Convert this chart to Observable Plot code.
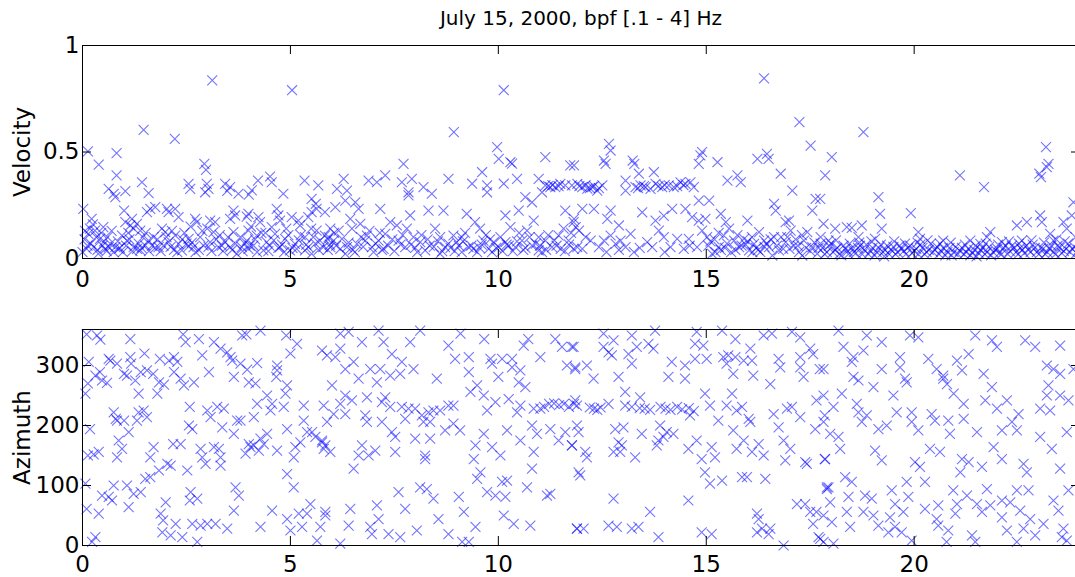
<!DOCTYPE html>
<html>
<head>
<meta charset="utf-8">
<script src="https://cdn.jsdelivr.net/npm/d3@7"></script>
<script src="https://cdn.jsdelivr.net/npm/@observablehq/plot@0.6"></script>
<style>
  html, body { margin: 0; padding: 0; background: #fff; overflow: hidden; width: 1075px; height: 577px; }
  #title { height: 36px; width: 998px; margin-left: 82px; text-align: center; font-family: "DejaVu Sans", sans-serif; font-size: 20px; line-height: 36px; color: #000; }
  svg { display: block; }
</style>
</head>
<body>
<div id="title"></div>
<div id="top"></div>
<div id="bottom"></div>
<script>
const titleText = "July 15, 2000, bpf [.1 - 4] Hz";
const xTicks = [0, 5, 10, 15, 20];
const velocityTicks = [0, 0.5, 1];
const azimuthTicks = [0, 100, 200, 300];
const velocityLabel = "Velocity";
const azimuthLabel = "Azimuth";

// [hour, velocity]
const velocityReadings = [
  // 0-6 h upper
  [0.13,0.503],[0.82,0.495],[0.39,0.441],[0.82,0.39],[0.63,0.327],[0.75,0.304],[0.79,0.288],[1.03,0.316],[1.43,0.358],[1.47,0.604],[1.59,0.307],[2.22,0.562],[2.55,0.35],[2.59,0.327],[2.93,0.444],[2.97,0.416],[2.99,0.35],[3.03,0.327],[2.95,0.311],[3.12,0.836],[3.43,0.35],[3.55,0.335],[3.48,0.317],[3.75,0.304],[4.0,0.30],[4.07,0.32],[4.22,0.366],[4.51,0.385],[4.55,0.358],[4.83,0.304],[5.04,0.79],[5.34,0.366],[5.67,0.343],[5.51,0.28],[5.61,0.257],[5.63,0.233],
  // 0-6 h middle
  [0.02,0.233],[1.0,0.225],[1.19,0.186],[1.55,0.218],[1.63,0.233],[1.75,0.241],[2.03,0.233],[2.07,0.218],[2.23,0.233],[2.31,0.194],[2.71,0.186],[3.07,0.178],[3.63,0.225],[3.67,0.202],[3.95,0.197],[3.99,0.21],[4.23,0.194],[4.67,0.233],[4.71,0.202],[4.75,0.178],[5.03,0.194],[5.19,0.178],[5.43,0.194],[5.51,0.218],[5.83,0.218],
  // 0-6 h low
  [0.22,0.186],[0.18,0.14],[0.14,0.116],[0.3,0.131],[0.5,0.147],[0.42,0.092],[0.1,0.045],[0.0,0.03],[0.27,0.053],[0.38,0.022],[0.55,0.045],[0.67,0.069],[0.79,0.053],[0.87,0.045],[0.95,0.108],[1.03,0.171],[1.15,0.155],[1.23,0.14],[1.31,0.163],[1.39,0.131],[1.07,0.084],[1.23,0.053],[1.39,0.038],[1.51,0.061],[1.59,0.084],[1.71,0.1],[1.83,0.053],[1.91,0.14],[1.99,0.124],[2.07,0.077],[2.23,0.108],[2.31,0.069],[2.39,0.038],[2.55,0.092],[2.67,0.053],[2.75,0.171],[2.83,0.1],[2.91,0.061],[3.07,0.077],[3.15,0.124],[3.19,0.171],[3.27,0.053],[3.43,0.077],[3.55,0.186],[3.63,0.124],[3.71,0.022],[3.83,0.053],[3.95,0.084],[3.99,0.131],[4.11,0.061],[4.19,0.108],[4.27,0.171],[4.35,0.038],[4.43,0.077],[4.55,0.147],[4.63,0.116],[4.75,0.053],[4.87,0.092],[4.99,0.038],[5.11,0.069],[5.23,0.155],[5.35,0.1],[5.43,0.053],[5.51,0.022],[5.63,0.131],[5.71,0.084],[5.83,0.108],
  [0.63,0.053],[0.9,0.05],[1.31,0.045],[1.75,0.05],[2.55,0.056],[3.55,0.053],[3.99,0.045],[4.71,0.05],[5.35,0.038],[5.79,0.053],
  [0.06,0.13],[0.25,0.16],[0.45,0.12],[0.6,0.1],[0.7,0.13],[1.1,0.12],[1.45,0.1],[1.8,0.09],[2.15,0.13],[2.45,0.12],[2.6,0.15],[3.0,0.14],[3.3,0.11],[3.8,0.1],[4.05,0.15],[4.4,0.12],[4.9,0.14],[5.25,0.11],[5.5,0.14],[5.9,0.09],
  [0.2,0.07],[0.48,0.06],[0.75,0.03],[1.05,0.06],[1.35,0.07],[1.6,0.035],[1.95,0.06],[2.2,0.04],[2.5,0.07],[2.8,0.04],[3.1,0.035],[3.35,0.06],[3.6,0.04],[3.9,0.07],[4.2,0.03],[4.5,0.06],[4.85,0.03],[5.15,0.045],[5.6,0.07],[5.9,0.04],
  [0.05,0.09],[0.12,0.06],[0.33,0.1],[0.36,0.04],[0.52,0.08],[0.58,0.035],[0.85,0.08],[0.97,0.03],[1.13,0.09],[1.2,0.035],[1.42,0.05],[1.52,0.12],[1.67,0.06],[1.88,0.035],[2.02,0.1],[2.12,0.055],[2.28,0.03],[2.4,0.09],[2.63,0.075],[2.72,0.03],[2.88,0.13],[3.03,0.055],[3.22,0.09],[3.38,0.035],[3.5,0.1],[3.68,0.07],[3.85,0.035],[4.02,0.06],[4.15,0.09],[4.3,0.12],[4.47,0.035],[4.6,0.085],[4.8,0.065],[4.95,0.11],[5.05,0.05],[5.2,0.085],[5.38,0.065],[5.55,0.1],[5.68,0.04],[5.95,0.065],
  // 6-12 h upper
  [8.93,0.593],[10.13,0.79],[9.97,0.523],[10.01,0.468],[10.29,0.452],[10.33,0.445],[11.13,0.476],[11.73,0.437],[7.72,0.444],[9.61,0.405],[6.28,0.374],[6.88,0.366],[7.08,0.358],[7.28,0.39],[7.68,0.358],[7.92,0.374],[8.2,0.335],[8.4,0.304],[7.84,0.311],[7.84,0.296],[8.8,0.374],[9.37,0.351],[9.73,0.343],[9.73,0.311],[10.13,0.351],[10.45,0.374],[10.65,0.288],[10.81,0.264],[10.97,0.374],[11.05,0.311],[11.13,0.343],[11.25,0.335],[11.37,0.335],[11.49,0.35],[11.61,0.343],[11.77,0.343],[11.2,0.34],[11.3,0.345],[11.45,0.34],
  [6.12,0.327],[6.36,0.319],[6.32,0.272],[6.08,0.241],[6.56,0.264],[6.64,0.233],[7.16,0.233],[7.88,0.202],[8.32,0.225],[8.68,0.225],[9.24,0.21],[10.17,0.202],[10.49,0.225],[10.85,0.178],[11.61,0.225],[11.81,0.171],
  // 6-12 h low
  [6.44,0.186],[6.68,0.163],[6.48,0.14],[5.96,0.14],[6.16,0.131],[5.92,0.1],[6.04,0.084],[6.24,0.092],[6.36,0.053],[5.96,0.053],[6.6,0.069],[6.8,0.084],[6.96,0.053],[7.12,0.084],[7.28,0.116],[7.4,0.171],[7.56,0.155],[7.6,0.084],[7.76,0.053],[7.96,0.1],[8.12,0.077],[8.24,0.038],[8.48,0.14],[8.6,0.1],[8.72,0.053],[8.92,0.108],[9.0,0.077],[9.12,0.03],[9.28,0.053],[9.44,0.171],[9.56,0.14],[9.64,0.084],[9.77,0.045],[9.89,0.077],[10.01,0.053],[10.17,0.077],[10.29,0.147],[10.41,0.053],[10.57,0.084],[10.69,0.131],[10.81,0.061],[10.97,0.1],[11.13,0.084],[11.29,0.053],[11.45,0.108],[11.57,0.14],[11.69,0.084],[11.81,0.045],[6.32,0.022],[7.24,0.045],[8.6,0.022],[9.49,0.03],[10.97,0.038],[9.12,0.1],[6.84,0.108],
  [6.1,0.06],[6.5,0.04],[6.7,0.1],[7.0,0.03],[7.15,0.12],[7.35,0.06],[7.5,0.035],[7.7,0.11],[7.9,0.065],[8.05,0.03],[8.3,0.09],[8.45,0.055],[8.8,0.07],[8.95,0.035],[9.2,0.12],[9.35,0.06],[9.55,0.05],[9.7,0.11],[9.85,0.03],[10.05,0.1],[10.25,0.06],[10.35,0.035],[10.5,0.12],[10.65,0.05],[10.9,0.07],[11.05,0.03],[11.2,0.11],[11.4,0.06],[11.6,0.035],[11.75,0.12],
  [6.05,0.12],[6.2,0.045],[6.4,0.075],[6.55,0.03],[6.75,0.055],[6.9,0.13],[7.05,0.07],[7.2,0.04],[7.45,0.09],[7.65,0.065],[7.8,0.14],[8.0,0.05],[8.15,0.11],[8.35,0.06],[8.55,0.08],[8.65,0.035],[8.85,0.05],[9.05,0.06],[9.15,0.08],[9.4,0.045],[9.6,0.065],[9.8,0.09],[9.95,0.05],[10.1,0.035],[10.2,0.065],[10.45,0.08],[10.6,0.04],[10.75,0.1],[11.0,0.06],[11.15,0.04],[11.35,0.085],[11.5,0.045],[11.7,0.065],
  // 12-17.7 h upper
  [12.66,0.538],[12.7,0.507],[12.54,0.46],[12.58,0.444],[11.82,0.437],[13.23,0.46],[13.27,0.444],[14.9,0.5],[14.86,0.484],[14.82,0.444],[15.27,0.452],[16.23,0.468],[16.46,0.491],[16.5,0.468],[17.51,0.53],[16.79,0.398],[15.75,0.39],[15.83,0.358],[15.51,0.366],[17.07,0.319],[16.39,0.846],[17.24,0.64],
  // 12-15 h band
  [11.9,0.35],[12.02,0.335],[12.14,0.328],[12.26,0.335],[12.38,0.319],[12.5,0.343],[11.95,0.34],[12.1,0.345],[12.2,0.33],[12.3,0.34],[12.42,0.33],[13.06,0.366],[13.06,0.319],[13.3,0.335],[13.42,0.343],[13.54,0.335],[13.66,0.327],[13.78,0.35],[13.94,0.335],[14.1,0.343],[14.22,0.335],[14.38,0.358],[14.5,0.35],[14.62,0.358],[14.7,0.335],[13.36,0.33],[13.5,0.34],[13.85,0.34],[14.0,0.345],[14.3,0.34],[14.45,0.345],[13.38,0.398],[13.74,0.405],[14.82,0.272],[15.07,0.272],[16.63,0.257],[16.67,0.225],[17.55,0.225],[17.63,0.28],
  // 12-17.7 h middle
  [12.02,0.233],[12.3,0.233],[12.7,0.225],[13.46,0.217],[13.78,0.178],[13.98,0.2],[14.18,0.233],[14.5,0.233],[14.66,0.194],[14.82,0.178],[14.98,0.186],[15.35,0.21],[15.47,0.171],[15.99,0.178],[16.91,0.171],[16.99,0.178],[11.82,0.186],[11.86,0.147],[12.9,0.155],[12.62,0.186],
  // 12-17.7 h low
  [11.94,0.131],[12.1,0.1],[11.9,0.053],[12.02,0.045],[12.22,0.084],[12.42,0.053],[12.54,0.084],[12.7,0.108],[12.82,0.069],[12.94,0.084],[13.06,0.053],[13.18,0.116],[13.26,0.03],[13.58,0.077],[13.7,0.053],[13.86,0.131],[13.98,0.1],[14.14,0.053],[14.3,0.092],[14.46,0.045],[14.58,0.092],[14.78,0.053],[14.9,0.131],[15.02,0.1],[15.14,0.022],[15.3,0.053],[15.42,0.108],[15.55,0.14],[15.67,0.084],[15.79,0.053],[15.91,0.092],[16.03,0.038],[16.15,0.069],[16.27,0.124],[16.39,0.084],[16.51,0.053],[16.63,0.1],[16.75,0.038],[16.91,0.077],[17.03,0.131],[17.11,0.061],[17.23,0.03],[17.35,0.084],[17.43,0.124],[17.55,0.053],[17.67,0.022],[17.75,0.1],[15.22,0.03],[16.11,0.03],[17.31,0.014],[16.59,0.014],
  [15.05,0.06],[15.2,0.09],[15.35,0.04],[15.5,0.07],[15.6,0.03],[15.75,0.11],[15.85,0.06],[16.0,0.08],[16.2,0.05],[16.3,0.03],[16.45,0.07],[16.7,0.06],[16.8,0.1],[17.0,0.045],[17.15,0.09],[17.4,0.05],[17.6,0.075],[12.6,0.03],[12.9,0.04],[13.4,0.05],[14.0,0.03],[14.6,0.06],
  [15.1,0.08],[15.3,0.12],[15.45,0.05],[15.7,0.04],[15.95,0.065],[16.1,0.1],[16.25,0.04],[16.4,0.055],[16.55,0.09],[16.85,0.045],[16.95,0.1],[17.2,0.06],[17.3,0.11],[17.5,0.035],[17.7,0.05],
  // 17.7-24 h upper and middle
  [18.78,0.593],[18.02,0.476],[17.86,0.39],[21.1,0.39],[21.68,0.335],[23.17,0.523],[23.23,0.444],[23.19,0.429],[23.01,0.398],[23.05,0.382],[19.14,0.288],[17.74,0.28],[19.18,0.21],[19.92,0.213],[23.83,0.264],[19.22,0.14],
  [17.82,0.163],[18.1,0.14],[18.38,0.147],[18.5,0.144],[18.74,0.155],[18.66,0.1],[19.06,0.092],[20.1,0.124],[20.14,0.092],[20.7,0.084],[21.35,0.084],[21.59,0.069],[21.83,0.124],[21.75,0.1],[22.47,0.155],[22.71,0.171],[23.03,0.202],[23.07,0.171],[23.27,0.116],[23.35,0.084],[23.59,0.171],[23.67,0.14],[23.79,0.202],[22.59,0.084],[22.11,0.077],[17.94,0.084],
  // 17.7-24 h low
  [17.8,0.05],[17.9,0.03],[18.0,0.07],[18.1,0.04],[18.2,0.02],[18.3,0.06],[18.4,0.035],[18.5,0.05],[18.6,0.025],[18.7,0.06],[18.8,0.04],[18.9,0.02],[19.0,0.05],[19.1,0.03],[19.2,0.065],[19.3,0.04],[19.4,0.02],[19.5,0.055],[19.6,0.03],[19.7,0.045],[19.8,0.02],[19.9,0.06],[20.0,0.035],[20.1,0.02],[20.2,0.05],[20.3,0.03],[20.4,0.07],[20.5,0.04],[20.6,0.02],[20.7,0.05],[20.8,0.03],[20.9,0.015],[21.0,0.055],[21.1,0.035],[21.2,0.02],[21.3,0.045],[21.4,0.025],[21.5,0.01],[21.6,0.04],[21.7,0.02],[21.8,0.055],[21.9,0.03],[22.0,0.045],[22.1,0.02],[22.2,0.06],[22.3,0.035],[22.4,0.05],[22.5,0.02],[22.6,0.04],[22.7,0.06],[22.8,0.03],[22.9,0.05],[23.0,0.02],[23.1,0.045],[23.2,0.03],[23.3,0.06],[23.4,0.02],[23.5,0.05],[23.6,0.035],[23.7,0.07],[23.8,0.045],[23.9,0.025],
  [17.85,0.02],[17.95,0.06],[18.05,0.03],[18.15,0.05],[18.25,0.015],[18.35,0.045],[18.45,0.07],[18.55,0.03],[18.65,0.05],[18.75,0.02],[18.85,0.065],[18.95,0.035],[19.05,0.015],[19.15,0.05],[19.25,0.03],[19.35,0.06],[19.45,0.04],[19.55,0.02],[19.65,0.06],[19.75,0.035],[19.85,0.05],[19.95,0.025],[20.05,0.045],[20.15,0.065],[20.25,0.02],[20.35,0.04],[20.45,0.03],[20.55,0.055],[20.65,0.035],[20.75,0.015],[20.85,0.05],[20.95,0.03],[21.05,0.02],[21.15,0.05],[21.25,0.03],[21.35,0.015],[21.45,0.04],[21.55,0.025],[21.65,0.05],[21.75,0.03],[21.85,0.015],[21.95,0.04],[22.05,0.025],[22.15,0.05],[22.25,0.02],[22.35,0.06],[22.45,0.03],[22.55,0.05],[22.65,0.025],[22.75,0.04],[22.85,0.065],[22.95,0.03],[23.05,0.05],[23.15,0.02],[23.25,0.045],[23.35,0.03],[23.45,0.06],[23.55,0.025],[23.65,0.045],[23.75,0.03],[23.85,0.055],[23.95,0.04],
  [17.75,0.07],[18.12,0.085],[18.42,0.02],[18.68,0.075],[18.97,0.08],[19.28,0.01],[19.52,0.08],[19.78,0.07],[20.08,0.075],[20.32,0.085],[20.62,0.07],[20.88,0.075],[21.22,0.065],[21.48,0.06],[21.72,0.07],[22.02,0.065],[22.28,0.08],[22.52,0.07],[22.82,0.085],[23.12,0.075],[23.42,0.09],[23.62,0.08],[23.88,0.1]
];

// [hour, azimuth in degrees]
const azimuthReadings = [
  // 0-6 h
  [0.1,352],[0.35,350],[0.43,343],[0.15,306],[0.42,289],[0.31,283],[0.47,275],[0.59,271],[0.13,270],[0.07,253],[0.67,308],[0.83,303],[0.63,311],[1.15,344],[1.15,314],[1.17,303],[1.0,286],[1.07,283],[1.27,275],[1.35,253],[1.49,320],[1.4,289],[1.55,292],[1.7,286],[1.86,311],[1.84,272],[1.8,253],[1.96,268],[2.08,308],[2.2,314],[2.28,306],[2.2,289],[2.36,278],[2.44,267],[2.68,272],[2.48,339],[2.42,352],[2.8,344],[2.88,317],[3.04,289],[3.16,339],[3.32,328],[3.48,322],[3.56,314],[3.6,308],[3.64,281],[3.84,350],[3.94,352],[3.8,303],[3.96,293],[4.0,272],[4.16,270],[4.28,358],[4.2,304],[4.44,250],[4.68,300],[4.68,292],[4.66,281],[4.88,253],[4.9,350],[5.0,320],[5.16,336],[4.92,267],
  [0.18,194],[0.13,150],[0.27,152],[0.39,156],[0.75,222],[0.83,208],[0.8,211],[1.0,208],[1.11,189],[0.87,175],[0.95,161],[0.83,147],[1.35,222],[1.31,208],[1.47,225],[1.55,214],[1.63,147],[1.71,164],[1.84,125],[1.63,114],[1.51,111],[2.04,136],[2.12,133],[2.18,169],[2.36,169],[2.58,231],[2.56,200],[2.64,194],[2.52,125],[2.84,161],[2.88,147],[2.96,136],[3.0,225],[3.08,214],[3.16,164],[3.28,161],[3.32,147],[3.32,133],[3.24,231],[3.4,228],[3.36,197],[3.64,186],[3.72,208],[3.8,208],[3.92,153],[4.0,169],[4.04,164],[4.12,167],[4.12,214],[4.2,236],[4.24,158],[4.28,178],[4.36,169],[4.44,186],[4.52,225],[4.56,236],[4.68,158],[4.84,231],[4.92,194],[5.12,164],[5.08,147],[5.24,172],[5.32,208],[5.32,233],[5.4,189],[5.52,189],[5.6,181],[5.76,175],[5.84,167],
  [0.07,103],[0.1,61],[0.39,53],[0.31,14],[0.23,6],[0.47,83],[0.63,81],[0.75,100],[0.71,75],[1.07,100],[1.11,64],[1.23,86],[1.4,89],[1.88,53],[1.94,42],[2.0,72],[1.92,22],[2.12,17],[2.24,36],[2.4,14],[2.6,89],[2.58,75],[2.76,78],[2.64,36],[2.76,6],[2.84,33],[3.0,36],[3.2,36],[3.48,28],[3.64,58],[3.68,97],[3.76,83],[4.28,31],[4.56,58],[4.92,44],[5.0,25],[4.92,119],[5.08,97],[5.2,53],[5.28,31],[5.4,53],[5.48,69],[5.64,8],[5.72,31],[5.84,56],
  // 6-12 h
  [6.2,353],[6.4,356],[6.72,339],[7.12,358],[7.24,339],[7.88,339],[8.12,358],[8.8,333],[9.09,353],[9.66,344],[5.76,325],[5.88,317],[6.08,314],[6.2,328],[6.52,306],[6.32,294],[6.64,278],[6.92,294],[7.16,294],[7.08,272],[7.4,283],[7.44,319],[7.64,286],[7.68,306],[7.96,294],[8.52,278],[8.96,311],[9.29,314],[9.29,289],[9.81,311],[9.85,303],[10.0,281],[10.09,311],[10.33,311],[10.33,297],[10.53,292],[10.49,272],[10.65,264],[10.61,333],[10.72,344],[11.01,314],[11.37,344],[11.53,331],[11.77,331],[11.65,300],[11.85,294],
  [6.0,267],[6.32,250],[6.2,236],[6.48,242],[5.8,233],[6.04,219],[5.88,206],[6.32,219],[6.84,247],[7.28,247],[7.2,239],[6.8,217],[6.84,206],[7.2,206],[5.76,172],[5.96,156],[5.8,161],[6.72,167],[6.64,150],[6.88,150],[7.04,158],[6.52,128],[7.44,189],[7.52,181],[7.52,156],[7.4,231],[7.68,231],[7.84,228],[7.76,211],[8.0,228],[8.16,217],[8.32,222],[8.44,225],[8.6,225],[8.8,233],[8.92,233],[8.2,206],[8.36,206],[8.0,178],[8.36,178],[8.72,192],[8.92,203],[9.08,192],[8.24,150],[8.24,144],[9.45,167],[9.41,144],[9.57,122],[9.49,111],[9.65,186],[9.85,164],[10.05,150],[9.33,256],[9.49,267],[9.65,250],[9.73,225],[9.93,239],[10.25,244],[10.53,233],[10.45,222],[10.21,192],[10.53,175],[10.81,200],[10.93,186],[10.85,156],[10.81,128],[11.25,194],[11.45,175],[11.61,189],[11.77,167],[11.89,200],[11.93,122],[10.85,228],[11.01,228],[11.1,231],[11.22,236],[11.34,237],[11.46,234],[11.58,236],[11.7,231],[11.82,236],
  [5.84,50],[6.44,61],[6.4,33],[6.2,3],[7.08,67],[7.12,44],[6.92,31],[6.96,19],[7.36,19],[7.64,14],[7.6,89],[7.76,61],[8.04,25],[8.12,97],[8.28,94],[8.44,78],[8.56,44],[8.8,19],[9.05,81],[9.17,56],[9.45,31],[9.13,6],[9.29,6],[9.73,89],[9.93,83],[10.17,81],[10.09,106],[10.21,108],[10.13,50],[10.37,36],[10.69,97],[10.77,33],[11.17,83],[11.25,86],[11.89,28],
  // 12-17.7 h
  [12.53,353],[12.77,342],[13.21,350],[13.77,358],[13.61,336],[13.73,328],[12.53,331],[12.65,322],[12.73,317],[13.13,319],[13.21,303],[13.33,331],[11.81,331],[11.85,297],[12.13,300],[12.29,278],[12.89,281],[14.77,356],[14.73,336],[14.93,333],[15.38,358],[15.7,344],[16.06,328],[16.38,350],[16.58,353],[17.06,356],[17.26,347],[17.5,328],[14.17,306],[14.49,300],[14.73,311],[15.01,311],[15.41,314],[15.53,317],[15.7,314],[15.9,308],[16.1,308],[15.49,303],[15.65,286],[16.13,283],[16.54,269],[16.74,311],[16.78,297],[17.26,314],[17.26,297],[17.34,281],[17.57,319],[17.73,294],[14.09,281],[14.49,278],
  [11.85,242],[11.89,233],[12.2,230],[12.3,228],[12.38,226],[12.46,230],[13.05,256],[13.41,247],[13.05,233],[13.21,231],[13.4,229],[13.52,228],[13.65,226],[13.9,231],[14.02,228],[14.14,226],[14.3,231],[14.42,227],[14.58,229],[14.7,224],[12.65,236],[11.93,189],[11.77,167],[12.09,156],[12.13,147],[11.97,117],[12.81,194],[13.01,197],[12.89,172],[12.97,167],[12.77,156],[12.93,156],[13.29,147],[13.45,186],[13.89,200],[14.05,189],[14.21,186],[13.85,175],[13.81,167],[13.97,181],[14.57,161],[14.77,175],[14.61,217],[14.89,144],[15.13,164],[15.21,147],[14.97,122],[15.09,103],[15.38,108],[14.97,253],[15.09,233],[15.29,208],[15.49,233],[15.62,253],[15.73,225],[15.86,231],[16.02,211],[16.06,206],[15.65,192],[15.9,175],[15.73,161],[16.1,156],[16.26,169],[16.38,150],[15.86,114],[15.98,114],[16.42,111],[16.62,219],[16.74,197],[16.86,175],[17.02,161],[16.9,142],[16.94,228],[17.06,231],[17.26,214],[17.38,139],[17.42,136],[17.65,242],[17.85,217],[17.62,194],[17.85,144],[17.9,94],
  [11.89,28],[12.05,28],[12.77,78],[12.65,33],[12.85,31],[13.21,28],[13.37,31],[13.65,56],[13.85,14],[14.57,75],[14.89,22],[15.13,19],[16.22,53],[16.26,44],[16.22,22],[16.34,28],[16.54,28],[16.5,19],[16.86,0],[17.18,69],[17.38,69],[17.5,56],[17.65,56],[17.57,36],[17.7,14],[17.82,6],[17.94,97],
  // 17.7-24 h
  [18.18,358],[18.86,350],[19.22,339],[19.9,350],[20.1,347],[21.47,350],[21.87,342],[21.99,331],[22.67,342],[22.91,331],[23.51,333],[18.3,331],[18.54,314],[18.78,325],[18.5,306],[17.82,294],[18.54,281],[18.66,275],[19.22,294],[19.66,314],[19.66,297],[19.78,278],[19.82,272],[20.34,311],[20.54,294],[20.7,283],[21.03,308],[21.15,292],[21.31,319],[21.67,286],[21.87,264],[21.19,236],[20.95,253],[20.79,269],[20.7,278],[23.19,300],[23.35,294],[23.51,286],[23.83,294],[23.23,267],[23.19,250],[23.51,250],[23.71,242],
  [17.82,250],[18.06,231],[18.26,253],[18.62,236],[18.66,222],[18.86,217],[18.74,206],[19.02,264],[19.34,200],[19.14,194],[19.5,250],[19.58,222],[19.94,222],[19.94,206],[20.1,192],[20.42,219],[20.5,208],[20.82,208],[20.86,186],[21.19,211],[21.51,189],[21.71,242],[21.99,228],[22.23,242],[22.51,219],[22.35,206],[22.11,192],[22.47,192],[23.03,228],[23.27,225],[23.03,181],[23.31,161],[23.67,189],[17.82,206],[17.98,186],[18.18,181],[18.22,161],[17.86,144],[19.06,158],[19.22,142],[20.38,161],[20.62,156],[20.02,139],[20.14,131],[21.15,144],[21.31,139],[21.11,122],[21.63,131],[21.91,164],[22.11,144],[22.63,136],[22.71,122],[23.51,128],[18.34,114],[18.5,106],[17.9,97],
  [17.98,72],[17.82,50],[18.02,39],[18.42,81],[18.38,56],[18.46,31],[18.82,83],[18.98,78],[18.78,56],[19.02,50],[19.14,33],[19.46,92],[19.54,69],[19.74,56],[19.42,47],[19.54,31],[19.82,106],[19.86,81],[19.7,22],[19.94,8],[20.26,106],[20.26,61],[20.58,67],[20.54,44],[20.58,33],[20.82,25],[20.94,92],[21.03,69],[20.99,53],[21.27,83],[21.51,69],[21.63,56],[21.39,17],[21.47,6],[21.75,94],[21.83,67],[22.11,75],[22.31,72],[22.11,47],[22.47,92],[22.75,92],[22.55,58],[22.79,44],[22.23,25],[22.63,28],[23.11,36],[22.91,17],[23.35,75],[23.71,92],[23.47,58],[23.59,28],[23.55,14],[23.67,8],[22.47,6],[20.78,6],[18.06,3],[17.74,11],[19.38,22]
];

document.getElementById("title").textContent = titleText;

const WIDTH = 1081, MARGIN_LEFT = 82, MARGIN_RIGHT = 1, TICK = 9;
const plotW = WIDTH - MARGIN_LEFT - MARGIN_RIGHT;

function panel({data, yDomain, yTicks, yLabel, height, marginTop, marginBottom, xPadding}) {
  const plotH = height - marginTop - marginBottom;
  return Plot.plot({
    width: WIDTH, height, marginLeft: MARGIN_LEFT, marginRight: MARGIN_RIGHT, marginTop, marginBottom,
    style: {fontFamily: "DejaVu Sans, sans-serif", fontSize: "23px", color: "#000", background: "#fff", overflow: "visible", maxWidth: "none", display: "block"},
    x: {domain: [0, 24]},
    y: {domain: yDomain},
    marks: [
      Plot.dot(data, {x: d => d[0], y: d => d[1], symbol: "times", r: 4.6, stroke: "#0000ff", strokeOpacity: 0.55, strokeWidth: 1.1}),
      Plot.ruleX(xTicks, {x: d => d, insetTop: plotH - TICK, stroke: "#000"}),
      Plot.ruleX(xTicks, {x: d => d, insetBottom: plotH - TICK, stroke: "#000"}),
      Plot.ruleY(yTicks, {y: d => d, insetRight: plotW - TICK, stroke: "#000"}),
      Plot.ruleY(yTicks, {y: d => d, insetLeft: plotW - TICK, stroke: "#000"}),
      Plot.frame({stroke: "#000"}),
      Plot.axisX(xTicks, {tickSize: 0, tickPadding: xPadding, label: null, tickFormat: d => `${d}`}),
      Plot.axisY(yTicks, {tickSize: 0, tickPadding: 3, label: null, tickFormat: d => `${d}`}),
      Plot.text([yLabel], {frameAnchor: "left", textAnchor: "middle", rotate: -90, dx: -60, text: d => d, fontSize: 23})
    ]
  });
}

document.getElementById("top").append(panel({
  data: velocityReadings, yDomain: [0, 1], yTicks: velocityTicks, yLabel: velocityLabel,
  height: 254, marginTop: 9, marginBottom: 32, xPadding: 12
}));
document.getElementById("bottom").append(panel({
  data: azimuthReadings, yDomain: [0, 360], yTicks: azimuthTicks, yLabel: azimuthLabel,
  height: 287, marginTop: 39, marginBottom: 32, xPadding: 10
}));
</script>
</body>
</html>
